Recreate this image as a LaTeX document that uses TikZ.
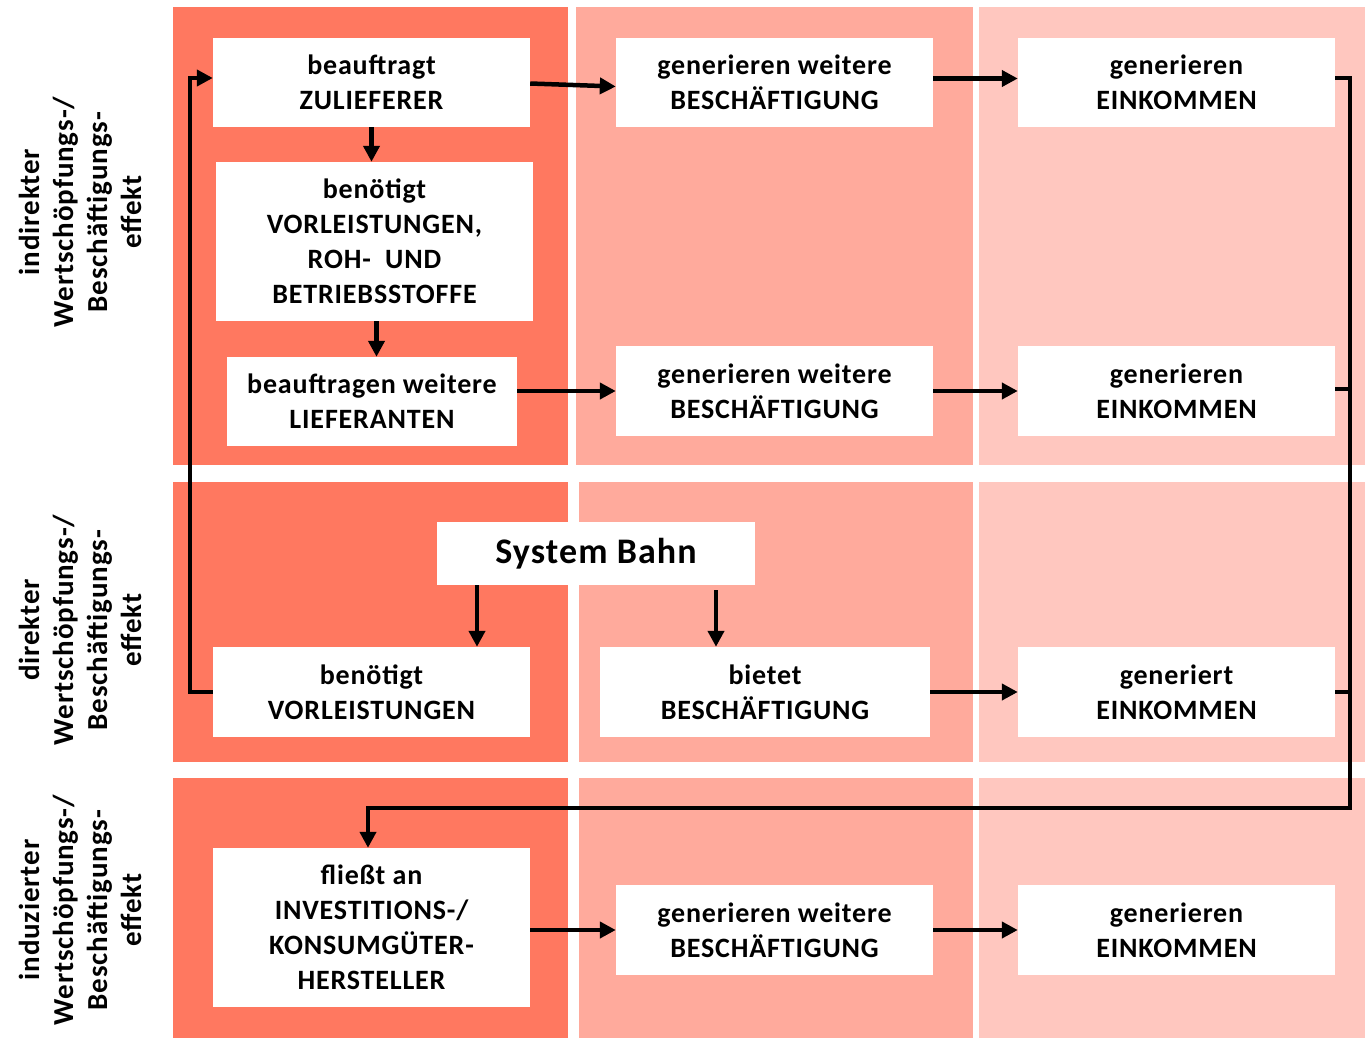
\documentclass[tikz,border=0pt]{standalone}
\usepackage{fontspec}
\setmainfont{Carlito}[LetterSpace=3]
\usetikzlibrary{arrows.meta}
\definecolor{effdark}{RGB}{255,120,96}
\definecolor{effmid}{RGB}{255,170,156}
\definecolor{efflight}{RGB}{255,199,191}
\begin{document}
\begin{tikzpicture}
    [
        x=1pt, y=-1pt,
        every node/.style={font=\bfseries\fontsize{28}{35}\selectfont},
        box/.style={
                fill=white,
                inner sep=0pt,
                align=center,
                minimum width=#1,
            },
        box/.default=317pt,
        rowlabel/.style={
                rotate=90,
                align=center,
                inner sep=0pt,
                font=\bfseries\fontsize{29}{34}\selectfont,
            },
        flow/.style={line width=4.5pt, -{Triangle[length=16pt, width=16pt]}},
        link/.style={line width=4.5pt},
    ]
    \useasboundingbox [fill=white] (0,0) rectangle (1365,1038);

    % columns per effect row
    \fill [effdark] (173,7) rectangle (568,465);
    \fill [effmid] (576,7) rectangle (973,465);
    \fill [efflight] (979,7) rectangle (1365,465);
    \fill [effdark] (173,482) rectangle (568,762);
    \fill [effmid] (579,482) rectangle (973,762);
    \fill [efflight] (979,482) rectangle (1365,762);
    \fill [effdark] (173,778) rectangle (568,1038);
    \fill [effmid] (579,778) rectangle (973,1038);
    \fill [efflight] (979,778) rectangle (1365,1038);

    % row labels
    \node [rowlabel] (lind) at (80,212) {indirekter\\Wertschöpfungs-/\\Beschäftigungs-\\effekt};
    \node [rowlabel] (ldir) at (80,630) {direkter\\Wertschöpfungs-/\\Beschäftigungs-\\effekt};
    \node [rowlabel] (linz) at (80,910) {induzierter\\Wertschöpfungs-/\\Beschäftigungs-\\effekt};

    % indirect effect
    \node [box, minimum height=89pt] (zul) at (371.5,82.5) {beauftragt\\ZULIEFERER};
    \node [box, minimum height=159pt] (vroh) at (374.5,241.5) {benötigt\\VORLEISTUNGEN,\\ROH-\ \ UND\\BETRIEBSSTOFFE};
    \node [box=290pt, minimum height=89pt] (lief) at (372,401.5) {beauftragen weitere\\LIEFERANTEN};
    \node [box, minimum height=89pt] (besch1) at (774.5,82.5) {generieren weitere\\BESCHÄFTIGUNG};
    \node [box, minimum height=89pt] (eink1) at (1176.5,82.5) {generieren\\EINKOMMEN};
    \node [box, minimum height=90pt] (besch2) at (774.5,391) {generieren weitere\\BESCHÄFTIGUNG};
    \node [box, minimum height=90pt] (eink2) at (1176.5,391) {generieren\\EINKOMMEN};

    % direct effect
    \node [box=318pt, minimum height=63pt, font=\bfseries\fontsize{36}{42}\selectfont] (bahn) at (596,553.5) {System Bahn};
    \node [box, minimum height=90pt] (vorl) at (371.5,692) {benötigt\\VORLEISTUNGEN};
    \node [box=330pt, minimum height=90pt] (biet) at (765,692) {bietet\\BESCHÄFTIGUNG};
    \node [box, minimum height=90pt] (eink3) at (1176.5,692) {generiert\\EINKOMMEN};

    % induced effect
    \node [box, minimum height=159pt] (kons) at (371.5,927.5) {fließt an\\INVESTITIONS-/\\KONSUMGÜTER-\\HERSTELLER};
    \node [box, minimum height=90pt] (besch3) at (774.5,930) {generieren weitere\\BESCHÄFTIGUNG};
    \node [box, minimum height=90pt] (eink4) at (1176.5,930) {generieren\\EINKOMMEN};

    % flows within the rows
    \draw [flow] ([yshift=-1pt]zul.east) -- ([yshift=-4pt]besch1.west);
    \draw [flow] ([yshift=4pt]besch1.east) -- ([yshift=4pt]eink1.west);
    \draw [flow] (zul.south) -- (zul.south |- vroh.north);
    \draw [flow] ([xshift=2pt]vroh.south) -- ([xshift=2pt]vroh.south |- lief.north);
    \draw [flow] (lief.east |- besch2.west) -- (besch2.west);
    \draw [flow] (besch2.east) -- (eink2.west);
    \draw [flow] ([xshift=-119pt]bahn.south) -- ([xshift=-119pt]bahn.south |- vorl.north);
    \draw [flow] ([xshift=120pt, yshift=-5pt]bahn.south) -- ([xshift=120pt]bahn.south |- biet.north);
    \draw [flow] (biet.east) -- (eink3.west);
    \draw [flow] (kons.east |- besch3.west) -- (besch3.west);
    \draw [flow] (besch3.east) -- (eink4.west);

    % loop back to the suppliers
    \draw [flow] (vorl.west) -- ++(-23,0) |- ([yshift=4.5pt]zul.west);

    % incomes feed the induced effect
    \coordinate (rail) at (1350,0);
    \draw [flow, line join=miter] ([yshift=4.5pt]eink1.east) -- ([yshift=4.5pt]eink1.east -| rail) -- (rail |- 0,808) -| ([xshift=-3.5pt]kons.north);
    \draw [link] ([yshift=2pt]eink2.east) -- ([yshift=2pt]eink2.east -| rail);
    \draw [link] (eink3.east) -- (eink3.east -| rail);
\end{tikzpicture}
\end{document}
